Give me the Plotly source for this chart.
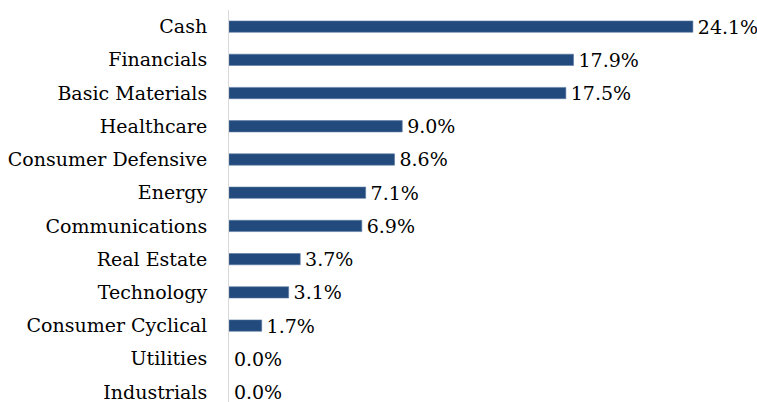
import plotly.graph_objects as go

categories = ["Cash", "Financials", "Basic Materials", "Healthcare", "Consumer Defensive",
              "Energy", "Communications", "Real Estate", "Technology", "Consumer Cyclical",
              "Utilities", "Industrials"]
values = [24.1, 17.9, 17.5, 9.0, 8.6, 7.1, 6.9, 3.7, 3.1, 1.7, 0.0, 0.0]
labels = [f"\u200a{v:.1f}%" for v in values]

FONT = "DejaVu Serif"
FS = 19

fig = go.Figure(go.Bar(
    y=categories, x=values, orientation="h",
    marker=dict(color="#224A7C",
                line=dict(color="#5B7BA3", width=[0.6 if v > 0 else 0 for v in values])),
    text=labels, textposition="outside", cliponaxis=False, constraintext="none",
    textfont=dict(family=FONT, size=FS, color="#000000"),
    width=0.34,
))

fig.update_layout(
    width=757, height=402,
    margin=dict(l=229, r=0, t=10, b=0),
    paper_bgcolor="white", plot_bgcolor="white",
    showlegend=False,
    font=dict(family=FONT, size=FS, color="#000000"),
    xaxis=dict(range=[0, 27.43], visible=False, showgrid=False, zeroline=False),
    yaxis=dict(categoryorder="array", categoryarray=categories,
               range=[11.3, -0.5], showgrid=False, zeroline=False,
               showline=True, linecolor="#D9D9D9", linewidth=1,
               ticks="", ticklabelstandoff=17,
               tickfont=dict(family=FONT, size=FS, color="#000000")),
)

fig.write_html("out.html", config={"displayModeBar": False},
               post_script="document.body.style.margin='0';document.body.style.overflow='hidden';")
